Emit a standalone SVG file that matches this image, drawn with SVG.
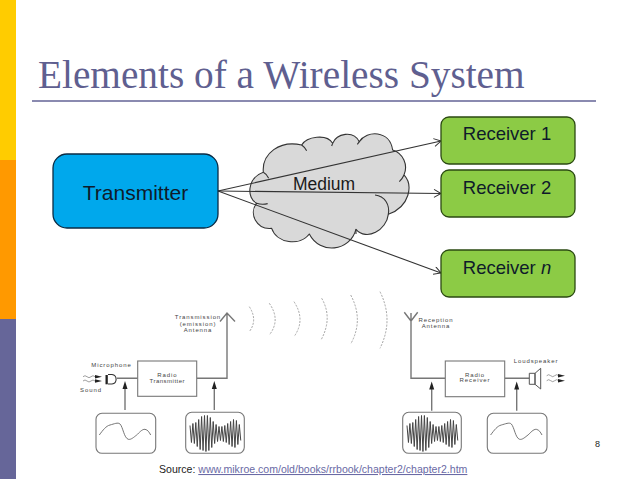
<svg xmlns="http://www.w3.org/2000/svg" width="638" height="479" viewBox="0 0 638 479">
<style>
text{font-family:"Liberation Sans",Arial,sans-serif}
.title{font-family:"Liberation Serif","Times New Roman",serif;font-size:39.300px;fill:#5F5F90}
.tx{fill:#00A8EC;stroke:#0B2B44;stroke-width:1.3}
.rx{fill:#8CCB45;stroke:#2B4A12;stroke-width:1.3}
.lbl{fill:#0F1B2A;text-anchor:middle}
.conn{fill:none;stroke:#333;stroke-width:1.1;marker-end:url(#open)}
.cloud{fill:#D9D9D9;stroke:#333;stroke-width:3.300;stroke-linejoin:round}
.inner{fill:none;stroke:#333;stroke-width:3.300}
.sm{font-size:6px;fill:#444;letter-spacing:.9px;text-anchor:middle}
.ln{fill:none;stroke:#777;stroke-width:1.400}
.thin{fill:none;stroke:#777;stroke-width:.7}
.box{fill:#fff;stroke:#777;stroke-width:1.100}
.wbox{fill:#fff;stroke:#777;stroke-width:1.100}
.wave{fill:none;stroke:#999;stroke-width:.9;stroke-dasharray:2 1.400}
.hd{fill:#222}
</style>
<defs>
<marker id="open" markerWidth="9" markerHeight="10" refX="8" refY="4.500" orient="auto" markerUnits="userSpaceOnUse">
<path d="M1 .5L8 4.500L1 8.500" fill="none" stroke="#333" stroke-width="1"/>
</marker>
<g id="curve"><rect x="96" y="413.300" width="59.700" height="40" rx="6" class="wbox"/>
<path d="M99.300 435C103 430 106 426 110 425C114 424 118 422 120 424C123 427 124 438 128.300 439.300C131 440 134 437 136.700 435C139 433 142 429 145 429.300C148 430 149 432 150.700 435" fill="none" stroke="#666" stroke-width=".9"/></g>
<g id="mod"><rect x="185.700" y="412.300" width="58.600" height="41" rx="6" class="wbox"/>
<polyline points="190,425.500 191.450,442.500 192.900,423.500 194.350,443.500 195.800,422.500 197.250,446.500 198.700,419.500 200.150,449.500 201.600,416.500 203.050,450.500 204.500,415.500 205.950,451.500 207.400,415.500 208.850,450.500 210.300,417.500 211.750,447.500 213.200,421.500 214.650,443.500 216.100,424.500 217.550,441.500 219,426.500 220.450,440.500 221.900,426.500 223.350,441.500 224.800,425.500 226.250,442.500 227.700,423.500 229.150,444.500 230.600,421.500 232.050,446.500 233.500,419.500 234.950,447.500 236.400,420.500 237.850,444.500 239.300,424.500 240.750,440.500" fill="none" stroke="#444" stroke-width="1"/></g>
</defs>
<rect width="638" height="479" fill="#fff"/>
<rect x="0" y="0" width="16" height="160" fill="#FFCC00"/>
<rect x="0" y="160" width="16" height="159" fill="#FF9900"/>
<rect x="0" y="319" width="16" height="160" fill="#666699"/>
<text class="title" x="38" y="88">Elements of a Wireless System</text>
<rect x="32" y="100" width="564" height="2" fill="#8A8AB0"/>

<g id="medium">
<g transform="translate(200 110) scale(.3333)">
<path class="cloud" d="M190 187C185 130 240 90 305 105C320 80 380 70 398 100C410 70 460 60 478 95C500 60 570 60 578 120C610 130 625 165 612 195C640 225 630 290 565 313C560 360 500 395 468 358C450 425 360 435 328 372C300 410 230 400 215 355C170 360 145 310 170 280C140 265 140 205 190 187Z"/>
<path class="inner" d="M190 187Q200 192 206 205M170 280Q186 285 203 281M525 255C555 258 570 285 565 313M612 195Q608 205 598 215M305 105Q315 112 320 122M398 100L395 108M478 95L472 103M468 358L468 372"/>
</g>
<text x="324" y="190" font-size="17.500" text-anchor="middle" fill="#1a1a1a">Medium</text>
</g>
<g id="connectors">
<path class="conn" d="M218 191L441 141"/>
<path class="conn" d="M218 191L441 193.500"/>
<path class="conn" d="M218 191L441 273"/>
</g>
<g id="transmitter"><rect class="tx" x="53" y="154" width="165" height="74" rx="14"/><text class="lbl" x="135.500" y="200" font-size="21">Transmitter</text></g>
<g id="receiver1"><rect class="rx" x="441" y="117" width="134" height="47" rx="8"/><text class="lbl" x="507" y="140" font-size="18.500">Receiver 1</text></g>
<g id="receiver2"><rect class="rx" x="441" y="170" width="134" height="47" rx="8"/><text class="lbl" x="507" y="194" font-size="18.500">Receiver 2</text></g>
<g id="receivern"><rect class="rx" x="441" y="250" width="134" height="47" rx="8"/><text class="lbl" x="507" y="274" font-size="18.500">Receiver <tspan font-style="italic">n</tspan></text></g>

<g id="transmit-chain">
<path class="wave" d="M249.300 306.700Q258 320 249.300 331.700M269.300 303.300Q281 320 269.300 335M294 301.700Q306 320 294 336.700M321.700 298.300Q333 318 321 340M350.700 295Q364 320 350.700 344M380 291.700Q394 320 380 348.300"/>
<path class="ln" d="M117 378.300H138M196.700 378.300H227V313.500M220 321.500L227 313L235 321.500"/>
<path class="ln" d="M125 410V385M214.300 410V385"/>
<path class="hd" d="M125 381L122.500 389H127.500ZM214.300 381L211.800 389H216.800Z"/>
<rect class="box" x="137.700" y="361" width="59" height="35.300"/>
<text class="sm" x="167.300" y="376.700">Radio</text><text class="sm" x="167.300" y="382.700" style="letter-spacing:.5px">Transmitter</text>
<text class="sm" x="198" y="319.300">Transmission</text><text class="sm" x="198" y="325.700">(emission)</text><text class="sm" x="198" y="331.700">Antenna</text>
<text class="sm" x="111.500" y="367">Microphone</text><text class="sm" x="91" y="392.300">Sound</text>
<rect x="105.500" y="375" width="2.300" height="9.300" fill="#222"/>
<path d="M108 374.500H112A4.800 4.800 0 0 1 112 384H108" fill="none" stroke="#333" stroke-width="1.100"/>
<path class="thin" d="M83 376.700q2-2 4 0t4 0t4 0M83 381q2-2 4 0t4 0t4 0"/>
<path class="hd" d="M102 376.700L95 374.900V378.500ZM102 381L95 379.200V382.800Z"/>
<use href="#curve"/><use href="#mod"/>
</g>
<g id="receive-chain">
<path class="ln" d="M404.300 312.300L411 321L417.700 312.300M411 313V378.300H445.300M504.700 378.300H529.300"/>
<path class="ln" d="M431.700 410.700V385M516.700 410.700V385"/>
<path class="hd" d="M431.700 381.500L429.200 389.500H434.200ZM516.700 381.500L514.200 389.500H519.200Z"/>
<rect class="box" x="445.300" y="361" width="59.400" height="35.700"/>
<text class="sm" x="475" y="376.700">Radio</text><text class="sm" x="475" y="382.300">Receiver</text>
<text class="sm" x="436" y="321.500">Reception</text><text class="sm" x="436" y="327.500">Antenna</text>
<text class="sm" x="536" y="362.700">Loudspeaker</text>
<path d="M529.300 373.300H535V384.300H529.300ZM535 373.300L540.700 368.300V389L535 384.300Z" fill="#fff" stroke="#555" stroke-width="1"/>
<path class="thin" d="M546.700 375.700q2-2 4 0t4 0t4 0M546.700 380.700q2-2 4 0t4 0t4 0"/>
<path class="hd" d="M565 375.700L558 373.900V377.500ZM565 380.700L558 378.900V382.500Z"/>
<use href="#mod" x="217"/><use href="#curve" x="391.300"/>
</g>
<text x="595" y="447" font-size="9" fill="#222">8</text>
<text x="159" y="473" font-size="10.550" fill="#222">Source: <tspan fill="#6A6AA5" text-decoration="underline">www.mikroe.com/old/books/rrbook/chapter2/chapter2.htm</tspan></text>
</svg>
